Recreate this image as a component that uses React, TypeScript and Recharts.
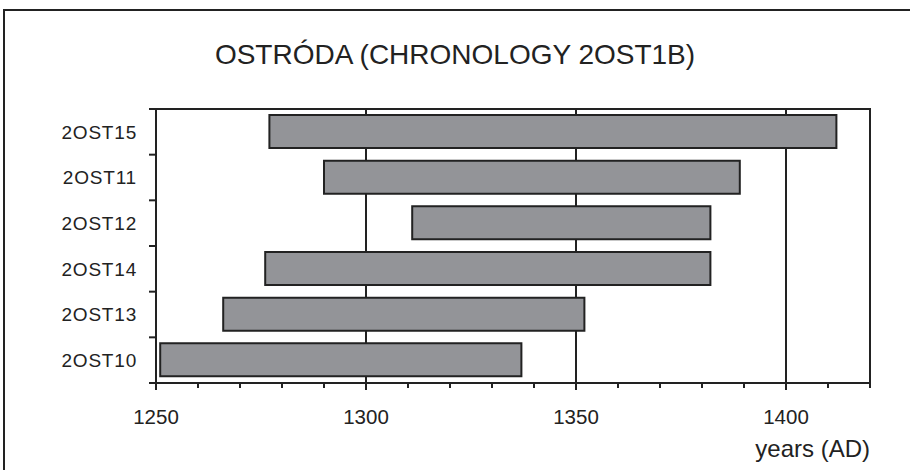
import React from "react";
import { BarChart, Bar, XAxis, YAxis, ReferenceArea, CartesianGrid, Label } from "recharts";

const samples = ["2OST15", "2OST11", "2OST12", "2OST14", "2OST13", "2OST10"];
const startYears = [1277, 1290, 1311, 1276, 1266, 1251];
const endYears = [1412, 1389, 1382, 1382, 1352, 1337];
const majorTicks = [1250, 1300, 1350, 1400];
const allTicks = [1250, 1260, 1270, 1280, 1290, 1300, 1310, 1320, 1330, 1340, 1350, 1360, 1370, 1380, 1390, 1400, 1410, 1420];
const gridYears = [1300, 1350, 1400];
const domain: [number, number] = [1250, 1420];
const title = "OSTRÓDA (CHRONOLOGY 2OST1B)";
const axisTitle = "years (AD)";

const data = samples.map((name, i) => ({ name, span: [startYears[i], endYears[i]] }));

const INK = "#222";
const FONT = "'Liberation Sans', Arial, sans-serif";

const XTick = (props: any) => {
  const { x, y, payload } = props;
  const major = majorTicks.includes(payload.value);
  return (
    <g>
      <line x1={x} x2={x} y1={y} y2={y + (major ? 7 : 5)} stroke={INK} strokeWidth={2} />
      {major && (
        <text x={x} y={y + 41} textAnchor="middle" fill={INK} fontSize={20.5} fontFamily={FONT}>
          {payload.value}
        </text>
      )}
    </g>
  );
};

const YTick = (props: any) => {
  const { x, y, payload, index, visibleTicksCount } = props;
  const half = payload.offset ?? 22.8;
  const axisX = x;
  return (
    <g>
      <line x1={axisX - 7} x2={axisX} y1={y - half} y2={y - half} stroke={INK} strokeWidth={2} />
      {index === visibleTicksCount - 1 && (
        <line x1={axisX - 7} x2={axisX} y1={y + half} y2={y + half} stroke={INK} strokeWidth={2} />
      )}
      <text x={axisX - 19} y={y} dy="0.36em" textAnchor="end" fill={INK} fontSize={19} fontFamily={FONT} letterSpacing={0.8}>
        {payload.value}
      </text>
    </g>
  );
};

const gridGenerator = (p: any) => {
  const xa = p && p.xAxis;
  if (xa && typeof xa.scale === "function") {
    return gridYears.map((v) => xa.scale(v));
  }
  const off = p.offset;
  return gridYears.map((v) => off.left + ((v - domain[0]) / (domain[1] - domain[0])) * off.width);
};

export default function App() {
  return (
    <div style={{ position: "absolute", left: 0, top: 0, width: 910, height: 470, background: "#fff", overflow: "hidden", fontFamily: FONT }}>
      <div style={{ position: "absolute", left: 3, top: 9, width: 920, height: 480, borderLeft: `2px solid ${INK}`, borderTop: `2px solid ${INK}` }} />
      <div style={{ position: "absolute", left: 0, top: 39, width: 910, textAlign: "center", fontSize: 28, color: INK, lineHeight: "32px" }}>
        {title}
      </div>
      <div style={{ position: "absolute", left: 0, top: 0 }}>
        <BarChart
          width={910}
          height={470}
          data={data}
          layout="vertical"
          margin={{ top: 109, right: 40, left: 56, bottom: 37 }}
          barSize={33}
        >
          <CartesianGrid
            horizontal={false}
            vertical={true}
            verticalCoordinatesGenerator={gridGenerator}
            stroke={INK}
            strokeWidth={2}
            strokeOpacity={1}
          />
          <XAxis
            type="number"
            domain={domain}
            ticks={allTicks}
            interval={0}
            allowDataOverflow
            axisLine={{ stroke: INK, strokeWidth: 2 }}
            tickLine={false}
            tickSize={0}
            tickMargin={0}
            tick={<XTick />}
            height={50}
          >
            <Label
              content={(p: any) => {
                const vb = p.viewBox || { x: 156, y: 383, width: 714 };
                return (
                  <text x={vb.x + vb.width} y={vb.y + 74} textAnchor="end" fill={INK} fontSize={24} fontFamily={FONT}>
                    {axisTitle}
                  </text>
                );
              }}
            />
          </XAxis>
          <YAxis
            type="category"
            dataKey="name"
            width={100}
            axisLine={{ stroke: INK, strokeWidth: 2 }}
            tickLine={false}
            tickSize={0}
            tickMargin={0}
            tick={<YTick />}
            interval={0}
          />
          <ReferenceArea x1={1250} x2={1420} fill="none" stroke={INK} strokeWidth={2} ifOverflow="visible" />
          <Bar dataKey="span" fill="#939498" stroke={INK} strokeWidth={2} isAnimationActive={false} />
        </BarChart>
      </div>
    </div>
  );
}
